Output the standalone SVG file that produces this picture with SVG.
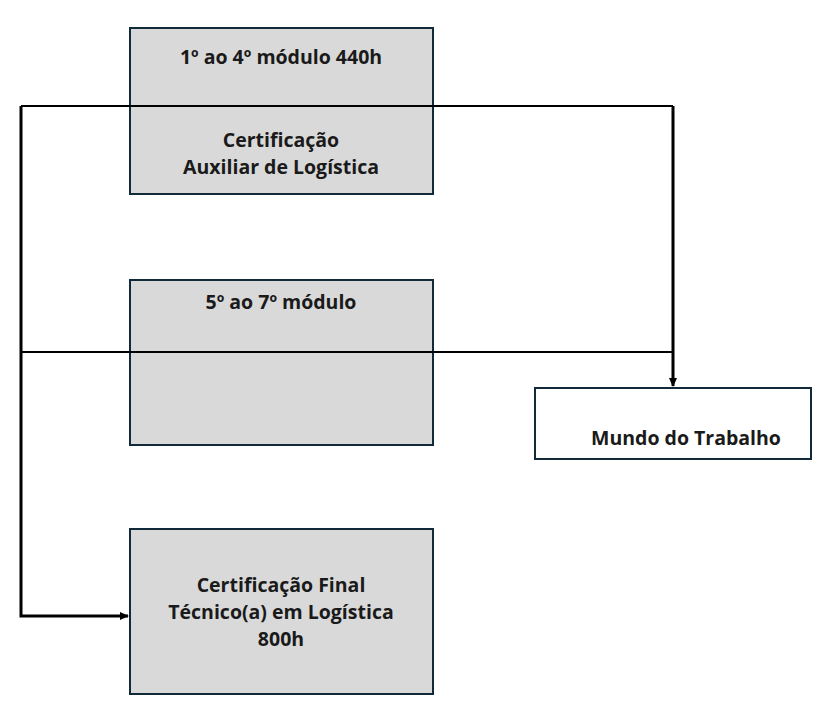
<svg xmlns="http://www.w3.org/2000/svg" width="834" height="709" viewBox="0 0 834 709">
<style>
.box{fill:#d9d9d9;stroke:#102a3a;stroke-width:2}
.wbox{fill:#ffffff;stroke:#102a3a;stroke-width:2}
.t{font-family:"Open Sans","Liberation Sans",Arial,sans-serif;font-weight:bold;font-size:19.5px;fill:#1a1a1a;text-anchor:middle}
.thin{fill:none;stroke:#000;stroke-width:2}
.thick{fill:none;stroke:#000;stroke-width:3}
</style>
<defs>
<marker id="ah" markerWidth="10" markerHeight="10" refX="8" refY="5" orient="auto" markerUnits="userSpaceOnUse">
<path d="M0,1 L9,5 L0,9 Z" fill="#000"/>
</marker>
</defs>
<rect width="834" height="709" fill="#fff"/>
<g id="node-modulo1-4">
<rect class="box" x="130" y="28" width="303" height="166"/>
<text class="t" x="281" y="64">1º ao 4º módulo 440h</text>
<text class="t" x="281" y="147">Certificação</text>
<text class="t" x="281" y="174">Auxiliar de Logística</text>
</g>
<g id="node-modulo5-7">
<rect class="box" x="130" y="280" width="303" height="165"/>
<text class="t" x="281" y="309">5º ao 7º módulo</text>
</g>
<g id="node-mundo">
<rect class="wbox" x="535" y="388" width="276" height="71"/>
<text class="t" x="686" y="445">Mundo do Trabalho</text>
</g>
<g id="node-final">
<rect class="box" x="130" y="529" width="303" height="165"/>
<text class="t" x="281" y="592">Certificação Final</text>
<text class="t" x="281" y="619">Técnico(a) em Logística</text>
<text class="t" x="281" y="646">800h</text>
</g>
<g id="connectors">
<line class="thin" x1="21" y1="106" x2="673" y2="106"/>
<line class="thin" x1="21" y1="352" x2="673" y2="352"/>
<path class="thick" d="M673,106 L673,386" marker-end="url(#ah)"/>
<path class="thick" d="M21,106 L21,616 L128,616" marker-end="url(#ah)"/>
</g>
</svg>
